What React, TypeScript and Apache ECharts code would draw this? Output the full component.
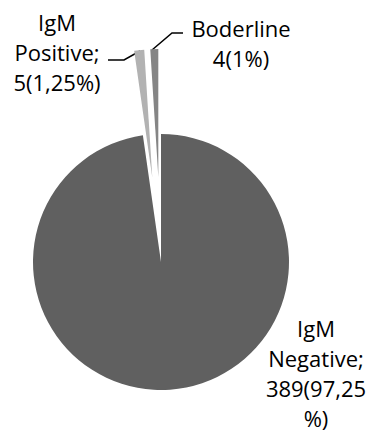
import React, { useEffect, useRef } from "react";
import * as echarts from "echarts";

const categories = ["IgM Negative", "IgM Positive", "Boderline"];
const values = [389, 5, 4];
const percents = ["97,25", "1,25", "1"];
const colors = ["#606060", "#b2b2b2", "#858585"];

// label texts as printed in the figure
function labelText(i: number): string {
  if (i === 0) return `IgM\nNegative;\n${values[0]}(${percents[0]}\n%)`;
  if (i === 1) return `IgM\nPositive;\n${values[1]}(${percents[1]}%)`;
  return `${categories[2]}\n${values[2]}(${percents[2]}%)`;
}

const CX = 161;
const CY = 262;
const R = 128;
const EXPLODE = [0, 85, 85];

const labelPos: any[] = [
  { x: 316, y: 373 },
  { x: 57, y: 52, line: [[140, 51], [124, 60], [108, 60]] },
  { x: 241, y: 43, line: [[152, 50], [172, 33], [183, 33]] },
];

export default function App() {
  const ref = useRef<HTMLDivElement>(null);
  useEffect(() => {
    const chart = echarts.init(ref.current!, null, { renderer: "svg" });
    const total = values.reduce((a, b) => a + b, 0);
    // mid angle (clockwise from 12 o'clock) of each slice
    let acc = 0;
    const mids = values.map((v) => {
      const m = ((acc + v / 2) / total) * 2 * Math.PI;
      acc += v;
      return m;
    });
    const series = values.map((_, k) => {
      const cx = CX + Math.sin(mids[k]) * EXPLODE[k];
      const cy = CY - Math.cos(mids[k]) * EXPLODE[k];
      return {
        type: "pie",
        center: [cx, cy],
        radius: R,
        startAngle: 90,
        clockwise: true,
        avoidLabelOverlap: false,
        emphasis: { disabled: true },
        silent: true,
        itemStyle: { borderWidth: 0 },
        label: {
          show: true,
          position: "outside",
          fontFamily: "Open Sans",
          fontSize: 22,
          lineHeight: 30,
          color: "#000",
          align: "center",
          formatter: (p: any) => labelText(p.dataIndex),
        },
        labelLine: {
          show: k > 0,
          lineStyle: { color: "#000", width: 1.5 },
        },
        labelLayout: (p: any) => {
          const lp = labelPos[p.dataIndex];
          const o: any = { x: lp.x, y: lp.y, align: "center", verticalAlign: "middle" };
          if (lp.line) o.labelLinePoints = lp.line;
          return o;
        },
        data: categories.map((name, i) => ({
          name,
          value: values[i],
          itemStyle: { color: i === k ? colors[i] : "rgba(0,0,0,0)" },
          label: { show: i === k },
          labelLine: { show: i === k && k > 0 },
        })),
      };
    });
    chart.setOption({ animation: false, series });
    return () => chart.dispose();
  }, []);
  return (
    <div
      ref={ref}
      style={{ position: "fixed", left: 0, top: 0, width: 370, height: 436, background: "#fff" }}
    />
  );
}
